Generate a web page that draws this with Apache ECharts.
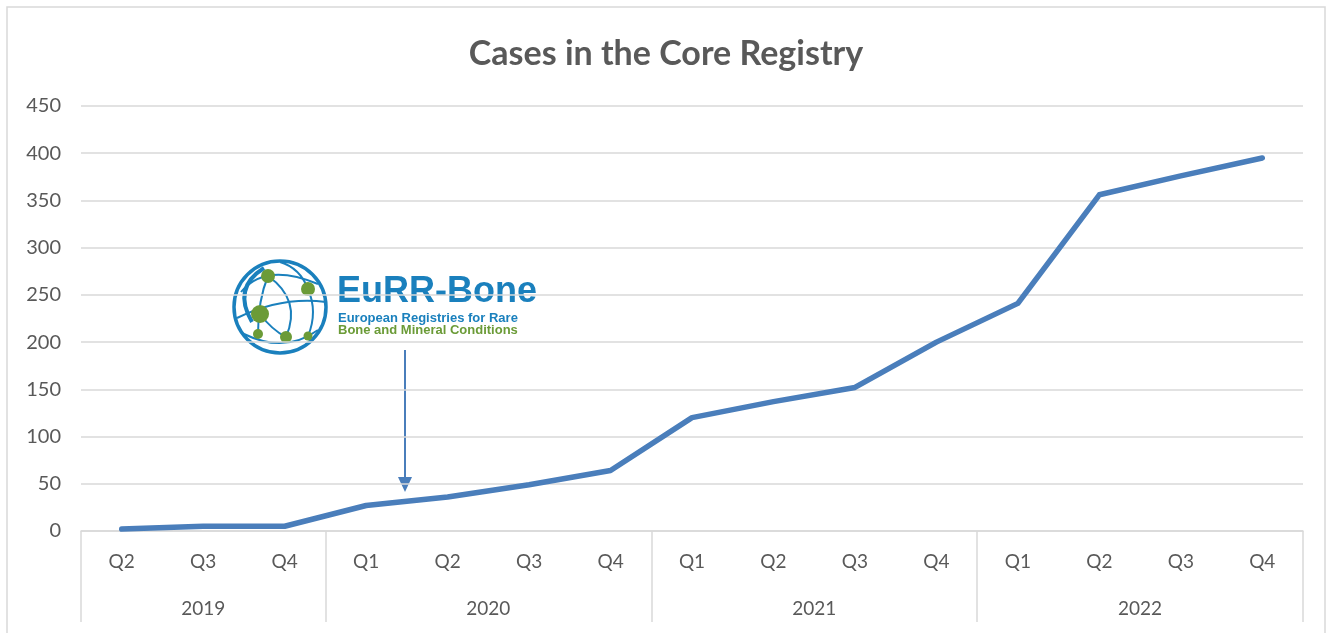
<!DOCTYPE html>
<html>
<head>
<meta charset="utf-8">
<script src="https://cdn.jsdelivr.net/npm/echarts@6/dist/echarts.min.js"></script>
<style>
  html, body { margin: 0; padding: 0; background: #fff; }
  #chart { width: 1332px; height: 633px; }
</style>
</head>
<body>
<div id="chart"></div>
<script>
// data
const quarters = ['Q2', 'Q3', 'Q4', 'Q1', 'Q2', 'Q3', 'Q4', 'Q1', 'Q2', 'Q3', 'Q4', 'Q1', 'Q2', 'Q3', 'Q4']
const years = ['2019', '2020', '2021', '2022']
const quartersPerYear = [3, 4, 4, 4]
const cases = [2, 5, 5, 27, 36, 49, 64, 120, 137, 152, 200, 241, 356, 376, 395]
const yMin = 0
const yMax = 450
const yStep = 50

// year group edges and centres, in quarter-index units
const yearEdges = [-0.5]
const yearCenters = []
let acc = 0
quartersPerYear.forEach(n => {
  yearCenters.push(acc + (n - 1) / 2)
  acc += n
  yearEdges.push(acc - 0.5)
})

const grey = '#595959'
const lineGrey = '#d9d9d9'
const blue = '#4a7ebb'
const logoBlue = '#1a80bd'
const logoGreen = '#6b9b37'
const font = 'Lato, "Open Sans", sans-serif'

const chart = echarts.init(document.getElementById('chart'))

// logo (a picture in the original, drawn here with shapes)
function curve (x1, y1, cpx, cpy, x2, y2, w) {
  return {
    type: 'bezierCurve',
    shape: { x1: x1, y1: y1, cpx1: cpx, cpy1: cpy, x2: x2, y2: y2 },
    style: { fill: 'none', stroke: logoBlue, lineWidth: w || 2 }
  }
}
function dot (x, y, r) {
  return { type: 'circle', shape: { cx: x, cy: y, r: r }, style: { fill: logoGreen } }
}
const logoFont = '"Liberation Sans", Arial, sans-serif'
const logo = [
  { type: 'circle', shape: { cx: 280, cy: 307, r: 46 }, style: { fill: 'none', stroke: logoBlue, lineWidth: 3.5 } },
  curve(241, 292, 265, 262, 318, 284),
  curve(237, 318, 282, 296, 326, 302),
  curve(244, 334, 285, 354, 318, 330),
  curve(268, 276, 258, 300, 258, 334),
  curve(268, 276, 302, 300, 286, 337),
  curve(308, 289, 318, 312, 308, 336),
  curve(264, 268, 232, 288, 252, 322, 4),
  curve(260, 314, 272, 330, 286, 337),
  curve(280, 262, 300, 268, 308, 289),
  dot(268, 276, 7),
  dot(308, 289, 7),
  dot(260, 314, 9),
  dot(258, 334, 5),
  dot(286, 337, 6),
  dot(308, 336, 4.5),
  { type: 'text', x: 337, y: 292, style: { text: 'EuRR-Bone', fill: logoBlue, font: 'bold 36px ' + logoFont, verticalAlign: 'middle' } },
  { type: 'text', x: 338, y: 318, style: { text: 'European Registries for Rare', fill: logoBlue, font: 'bold 13px ' + logoFont, verticalAlign: 'middle' } },
  { type: 'text', x: 338, y: 330, style: { text: 'Bone and Mineral Conditions', fill: logoGreen, font: 'bold 13px ' + logoFont, verticalAlign: 'middle' } }
]

// arrow pointing at early 2020
const arrow = [
  { type: 'line', shape: { x1: 405, y1: 350, x2: 405, y2: 478 }, style: { stroke: blue, lineWidth: 2 } },
  { type: 'polygon', shape: { points: [[398, 477], [412, 477], [405, 492]] }, style: { fill: blue } }
]

chart.setOption({
  backgroundColor: '#fff',
  animation: false,
  title: {
    text: 'Cases in the Core Registry',
    left: 'center',
    top: 32,
    textStyle: { fontFamily: font, fontSize: 34, fontWeight: 'bold', color: grey }
  },
  grid: { left: 81, right: 29, top: 106, bottom: 102 },
  xAxis: [
    {
      type: 'category',
      data: quarters,
      boundaryGap: true,
      axisLine: { lineStyle: { color: lineGrey, width: 1.5 } },
      axisTick: { show: false },
      axisLabel: { interval: 0, margin: 21, fontFamily: font, fontSize: 19, color: grey }
    },
    {
      // second row: years, with separators between the year groups
      type: 'value',
      position: 'bottom',
      min: -0.5,
      max: quarters.length - 0.5,
      axisLine: { show: false },
      splitLine: { show: false },
      axisTick: {
        show: true,
        customValues: yearEdges,
        length: 91,
        lineStyle: { color: lineGrey, width: 1.5 }
      },
      axisLabel: {
        customValues: yearCenters,
        margin: 68,
        fontFamily: font,
        fontSize: 19,
        color: grey,
        formatter: (v) => {
          const k = yearCenters.indexOf(v)
          return k >= 0 ? years[k] : ''
        }
      }
    }
  ],
  yAxis: {
    type: 'value',
    min: yMin,
    max: yMax,
    interval: yStep,
    axisLine: { show: false },
    axisTick: { show: false },
    splitLine: { lineStyle: { color: lineGrey, width: 1.5 } },
    axisLabel: { margin: 20, fontFamily: font, fontSize: 20, color: grey }
  },
  series: [
    {
      type: 'line',
      data: cases,
      showSymbol: false,
      symbol: 'none',
      lineStyle: { color: blue, width: 5.5, cap: 'round', join: 'round' }
    }
  ],
  graphic: [
    { type: 'rect', shape: { x: 7, y: 7, width: 1318, height: 640 }, style: { fill: 'none', stroke: lineGrey, lineWidth: 1.5 }, silent: true }
  ].concat(logo, arrow)
})
</script>
</body>
</html>
